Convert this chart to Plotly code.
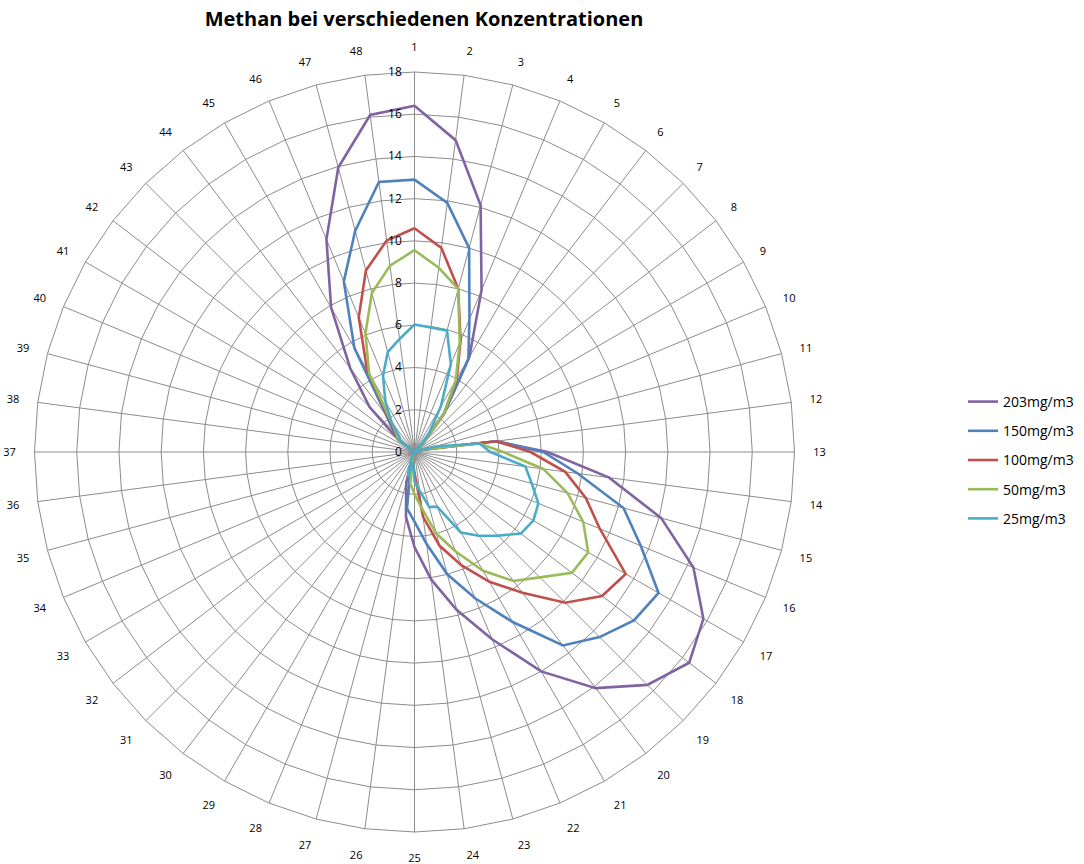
import plotly.graph_objects as go

categories = [str(i) for i in range(1, 49)]

zeros_29_41 = [0] * 13

s203 = [16.4, 14.9, 12.1, 8.3, 5.2, 2.3, 0.5, 0, 0, 0, 0.5, 3.9,
        6.3, 9.3, 12.1, 14.3, 15.8, 16.4, 15.6, 14.1, 12.0, 9.6, 7.75, 6.1,
        4.5, 3.1, 1.5, 0.3] + zeros_29_41 + [1.0, 3.0, 5.0, 7.9, 10.9, 13.95, 16.1]
s150 = [12.9, 11.9, 10.0, 6.8, 5.1, 2.3, 0.5, 0, 0, 0, 0.5, 3.9,
        6.1, 7.8, 10.25, 11.6, 13.35, 13.1, 12.4, 11.55, 9.3, 7.5, 6.0, 4.4,
        3.3, 2.7, 0.8, 0.2] + zeros_29_41 + [1.0, 1.4, 2.2, 5.7, 8.75, 10.85, 12.9]
s100 = [10.6, 9.75, 8.0, 5.7, 4.0, 2.3, 0.5, 0, 0, 0, 0.5, 3.9,
        5.5, 7.2, 8.4, 9.5, 11.55, 11.2, 10.1, 8.4, 7.1, 5.8, 4.6, 3.1,
        1.0, 0.5, 0.3, 0] + zeros_29_41 + [1.0, 1.3, 2.0, 4.5, 6.9, 8.9, 10.1]
s50 = [9.56, 8.8, 8.0, 5.6, 3.9, 2.3, 0.5, 0, 0, 0, 0.5, 3.1,
       4.2, 6.15, 7.5, 8.65, 9.5, 9.4, 8.4, 7.7, 6.5, 5.1, 4.0, 2.7,
       2.0, 1.5, 0.3, 0] + zeros_29_41 + [1.0, 1.2, 1.8, 4.3, 6.07, 7.8, 8.9]
s25 = [6.04, 5.95, 5.95, 4.5, 2.5, 1.15, 0.3, 0, 0, 0, 1.0, 3.1,
       3.6, 5.3, 5.75, 6.35, 6.5, 6.35, 5.6, 5.0, 4.4, 2.8, 2.7, 1.85,
       1.4, 0.5, 1.2, 0.4] + zeros_29_41 + [0.9, 1.0, 1.8, 2.76, 3.9, 4.9, 5.4]

series_names = ["203mg/m3", "150mg/m3", "100mg/m3", "50mg/m3", "25mg/m3"]
series_values = [s203, s150, s100, s50, s25]
series_colors = ["#8064A2", "#4F81BD", "#C0504D", "#9BBB59", "#4BACC6"]

fig = go.Figure()
for name, vals, col in zip(series_names, series_values, series_colors):
    fig.add_trace(go.Scatterpolar(
        r=vals + vals[:1],
        theta=categories + categories[:1],
        mode="lines",
        name=name,
        legendgroup=name,
        line=dict(color=col, width=2.6),
    ))

W, H = 1084, 864
cx, cy, R = 414.5, 452, 380

fig.update_layout(
    width=W, height=H,
    margin=dict(l=0, r=0, t=0, b=0),
    paper_bgcolor="white",
    plot_bgcolor="white",
    font=dict(family="Open Sans, sans-serif", size=11, color="#000000"),
    title=dict(
        text="<b>Methan bei verschiedenen Konzentrationen</b>",
        x=424 / W, xanchor="center",
        y=1 - 19 / H, yanchor="middle",
        font=dict(family="Open Sans, sans-serif", size=20, color="#000000"),
    ),
    polar=dict(
        domain=dict(x=[(cx - R) / W, (cx + R) / W],
                    y=[(H - cy - R) / H, (H - cy + R) / H]),
        bgcolor="white",
        gridshape="linear",
        angularaxis=dict(
            type="category",
            categoryorder="array",
            categoryarray=categories,
            rotation=90,
            direction="clockwise",
            showgrid=True,
            gridcolor="#8C8C8C",
            gridwidth=1,
            showline=True,
            linecolor="#8C8C8C",
            linewidth=1,
            ticks="outside",
            ticklen=16,
            tickcolor="rgba(0,0,0,0)",
            tickfont=dict(family="Open Sans, sans-serif", size=11, color="#000000"),
        ),
        radialaxis=dict(
            range=[0, 18],
            dtick=2,
            angle=90,
            side="counterclockwise",
            tickangle=90,
            showline=False,
            showgrid=True,
            gridcolor="#8C8C8C",
            gridwidth=1,
            ticks="outside",
            ticklen=8,
            tickcolor="rgba(0,0,0,0)",
            tickfont=dict(family="Open Sans, sans-serif", size=12, color="#000000"),
        ),
    ),
    legend=dict(
        x=963 / W, xanchor="left",
        y=1 - 386 / H, yanchor="top",
        font=dict(family="Open Sans, sans-serif", size=14, color="#000000"),
        itemwidth=30,
        tracegroupgap=8,
        bgcolor="rgba(0,0,0,0)",
    ),
    showlegend=True,
)

fig.write_html("out.html",
               config={"displayModeBar": False},
               post_script="document.body.style.margin='0px';document.body.style.overflow='hidden';")
